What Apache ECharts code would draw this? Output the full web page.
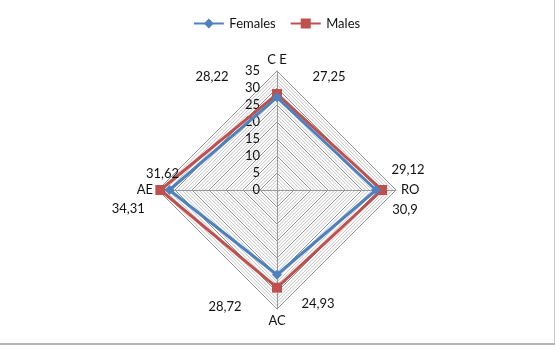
<!DOCTYPE html>
<html>
<head>
<meta charset="utf-8">
<script src="https://cdn.jsdelivr.net/npm/echarts@6/dist/echarts.min.js"></script>
<style>
  html, body { margin: 0; padding: 0; background: #fff; }
  #chart {
    width: 554px;
    height: 343px;
    border-right: 1px solid #c8c8c8;
    border-bottom: 2px solid #b4b4b4;
  }
</style>
</head>
<body>
<div id="chart"></div>
<script>
// categories, counterclockwise from the top
const categories = ["C E", "AE", "AC", "RO"];
const females = [27.25, 31.62, 24.93, 29.12];
const males = [28.22, 34.31, 28.72, 30.9];
const tickLabels = ["0", "5", "10", "15", "20", "25", "30", "35"];
const axisMax = 35;

const FONT = "Lato";
const fmt = (v) => String(v).replace(".", ",");

// offsets of the data labels from their point, per category
const labelOffsets = [
  [[52, -21], [-7, -16], [41, 29], [32, -20]],
  [[-65, -17], [-32, 19], [-52, 19], [23, 20]],
];

const chart = echarts.init(document.getElementById("chart"));

const option = {
  animation: false,
  legend: {
    top: 12,
    left: "center",
    itemWidth: 31,
    itemHeight: 10,
    itemGap: 15,
    textStyle: { fontFamily: FONT, fontSize: 13, color: "#111" },
    data: [
      {
        name: "Females",
        icon: "path://M0,4 L11,4 L15,0 L19,4 L30,4 L30,6 L19,6 L15,10 L11,6 L0,6 Z",
      },
      {
        name: "Males",
        icon: "path://M0,4 L10,4 L10,0 L20,0 L20,4 L30,4 L30,6 L20,6 L20,10 L10,10 L10,6 L0,6 Z",
      },
    ],
  },
  radar: {
    center: [277, 190],
    radius: 119,
    startAngle: 90,
    shape: "polygon",
    splitNumber: axisMax,
    nameGap: 5,
    axisName: { fontFamily: FONT, fontSize: 13, color: "#111" },
    indicator: categories.map((name, i) => {
      const ind = { name: name, min: 0, max: axisMax };
      if (i === 0) {
        ind.axisLabel = {
          show: true,
          fontFamily: FONT,
          fontSize: 13,
          color: "#111",
          margin: 17,
          formatter: (v) => (tickLabels.includes(String(v)) ? String(v) : ""),
        };
      }
      return ind;
    }),
    axisLabel: { show: false },
    axisTick: { show: false },
    axisLine: { lineStyle: { color: "#9a9a9a", width: 1 } },
    splitArea: { show: false },
    splitLine: {
      lineStyle: {
        color: ["#909090", "#c4c4c4", "#c4c4c4", "#c4c4c4", "#c4c4c4"],
        width: 1,
      },
    },
  },
  series: [
    {
      name: "Females",
      type: "radar",
      z: 3,
      symbol: "diamond",
      symbolSize: 10,
      lineStyle: { color: "#4f81bd", width: 3 },
      itemStyle: { color: "#4f81bd" },
      label: {
        show: true,
        position: "inside",
        fontFamily: FONT,
        fontSize: 13,
        color: "#111",
        formatter: (p) => fmt(p.value),
      },
      data: [{ name: "Females", value: females }],
    },
    {
      name: "Males",
      type: "radar",
      z: 2,
      symbol: "rect",
      symbolSize: 10,
      lineStyle: { color: "#c0504d", width: 3 },
      itemStyle: { color: "#c0504d" },
      label: {
        show: true,
        position: "inside",
        fontFamily: FONT,
        fontSize: 13,
        color: "#111",
        formatter: (p) => fmt(p.value),
      },
      data: [{ name: "Males", value: males }],
    },
  ],
  labelLayout: (params) => {
    const vals = params.seriesIndex === 0 ? females : males;
    const k = vals.map(fmt).indexOf(params.text);
    if (k < 0) return {};
    const off = labelOffsets[params.seriesIndex][k];
    return { dx: off[0], dy: off[1] };
  },
};

chart.setOption(option);
</script>
</body>
</html>
